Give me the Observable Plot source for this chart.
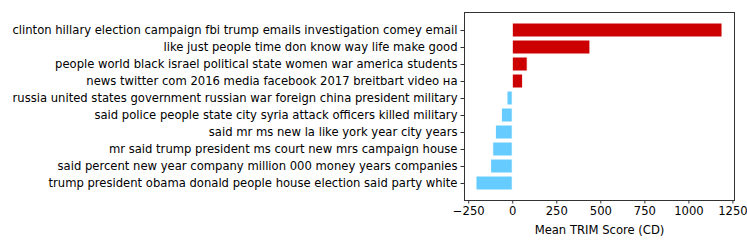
<!DOCTYPE html>
<html><head><meta charset="utf-8">
<script src="https://cdn.jsdelivr.net/npm/d3@7"></script>
<script src="https://cdn.jsdelivr.net/npm/@observablehq/plot@0.6"></script>
<style>body{margin:0;background:#fff}</style>
</head><body><div id="chart"></div>
<script>
const topics = [
  "clinton hillary election campaign fbi trump emails investigation comey email",
  "like just people time don know way life make good",
  "people world black israel political state women war america students",
  "news twitter com 2016 media facebook 2017 breitbart video на",
  "russia united states government russian war foreign china president military",
  "said police people state city syria attack officers killed military",
  "said mr ms new la like york year city years",
  "mr said trump president ms court new mrs campaign house",
  "said percent new year company million 000 money years companies",
  "trump president obama donald people house election said party white"
];
const scores = [1191, 441, 85, 59, -30, -62, -96, -111, -123, -206];
const xTicks = [-250, 0, 250, 500, 750, 1000, 1250];
const xLabel = "Mean TRIM Score (CD)";
const posColor = "#cc0000";
const negColor = "#66ccff";

const data = topics.map((t, i) => ({topic: t, score: scores[i]}));

const chart = Plot.plot({
  width: 747, height: 249,
  marginLeft: 464, marginRight: 13, marginTop: 12, marginBottom: 49,
  style: {fontFamily: "DejaVu Sans", fontSize: "11.6px", color: "#000", background: "#fff"},
  color: {type: "identity"},
  x: {domain: [-274, 1259]},
  y: {domain: topics, paddingInner: 0.2, paddingOuter: 0.49},
  marks: [
    Plot.barX(data, {x: "score", y: "topic", fill: d => d.score >= 0 ? posColor : negColor, stroke: "white", strokeWidth: 1}),
    Plot.axisY({tickSize: 3.5, tickPadding: 3.5, label: null, stroke: "#333"}),
    Plot.axisX({ticks: xTicks, tickSize: 3.5, tickPadding: 3, tickFormat: d => String(d).replace("-", "\u2212"), label: xLabel, labelAnchor: "center", labelArrow: "none", labelOffset: 33, stroke: "#333"}),
    Plot.frame({stroke: "#333"})
  ]
});
document.getElementById("chart").appendChild(chart);
</script>
</body></html>
